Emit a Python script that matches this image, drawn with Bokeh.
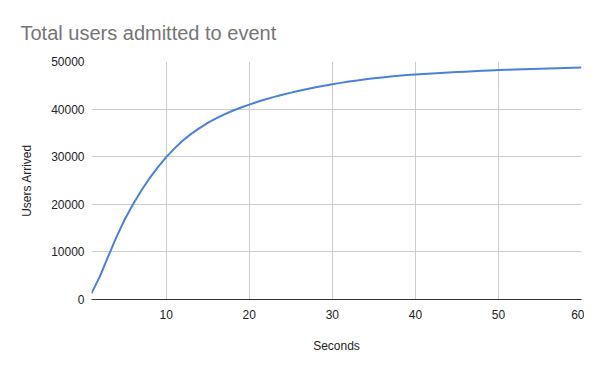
from bokeh.plotting import figure
from bokeh.models import Range1d, FixedTicker, NumeralTickFormatter
from bokeh.embed import file_html
from bokeh.resources import INLINE

seconds = list(range(1, 61))
users_arrived = [
    1300, 4800, 9000, 13100, 16800, 20000, 22900, 25500, 27800, 29900,
    31750, 33400, 34800, 36000, 37100, 38050, 38900, 39650, 40330, 40950,
    41530, 42070, 42570, 43030, 43460, 43860, 44230, 44580, 44910, 45220,
    45510, 45780, 46030, 46260, 46470, 46660, 46840, 47000, 47150, 47270,
    47380, 47490, 47590, 47690, 47780, 47870, 47960, 48040, 48120, 48200,
    48270, 48330, 48390, 48450, 48500, 48550, 48600, 48650, 48690, 48730,
]
x_ticks = [10, 20, 30, 40, 50, 60]
y_ticks = [0, 10000, 20000, 30000, 40000, 50000]
title_text = "Total users admitted to event"

FONT = "Liberation Sans"

p = figure(width=584, height=355, output_backend="svg", toolbar_location=None,
           x_range=Range1d(1, 60), y_range=Range1d(0, 50000),
           frame_width=490, frame_height=238,
           min_border_left=91, min_border_right=3, min_border_top=61, min_border_bottom=56)
p.outline_line_color = None

p.title.text = title_text
p.title.text_font = FONT
p.title.text_font_size = "20px"
p.title.text_font_style = "normal"
p.title.text_color = "#757575"
p.title.offset = -71
p.title.standoff = 36

p.line(seconds, users_arrived, line_color="#4a80dc", line_width=2)

p.xaxis.ticker = FixedTicker(ticks=x_ticks)
p.yaxis.ticker = FixedTicker(ticks=y_ticks)
p.yaxis.formatter = NumeralTickFormatter(format="0")
p.xgrid.ticker = FixedTicker(ticks=x_ticks)
p.ygrid.ticker = FixedTicker(ticks=y_ticks)
p.grid.grid_line_color = "#cccccc"
p.grid.grid_line_width = 1

for ax in (p.xaxis, p.yaxis):
    ax.major_tick_line_color = None
    ax.minor_tick_line_color = None
    ax.major_tick_out = 0
    ax.major_tick_in = 0
    ax.major_label_text_font = FONT
    ax.major_label_text_font_size = "12px"
    ax.major_label_text_color = "#222222"
    ax.axis_label_text_font = FONT
    ax.axis_label_text_font_size = "12px"
    ax.axis_label_text_font_style = "normal"
    ax.axis_label_text_color = "#222222"

p.yaxis.axis_line_color = None
p.xaxis.axis_line_color = "#333333"
p.xaxis.axis_line_width = 1
p.yaxis.major_label_standoff = 7
p.xaxis.major_label_standoff = 10
p.yaxis.axis_label = "Users Arrived"
p.xaxis.axis_label = "Seconds"
p.yaxis.axis_label_standoff = 14
p.xaxis.axis_label_standoff = 17

open("out.html", "w").write(file_html(p, INLINE))
